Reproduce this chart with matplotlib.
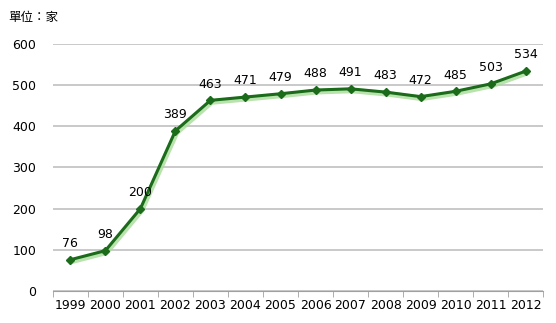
import matplotlib
matplotlib.use("Agg")
import matplotlib.pyplot as plt
import matplotlib.patheffects as pe
import numpy as np

years = ["1999", "2000", "2001", "2002", "2003", "2004", "2005",
         "2006", "2007", "2008", "2009", "2010", "2011", "2012"]
counts = [76, 98, 200, 389, 463, 471, 479, 488, 491, 483, 472, 485, 503, 534]

plt.rcParams["font.family"] = ["DejaVu Sans", "Noto Sans CJK TC"]

fig = plt.figure(figsize=(5.56, 3.23), dpi=100)
fig.patch.set_facecolor("white")
ax = fig.add_axes([0.095, 0.099, 0.882, 0.765])

x = np.arange(len(years))
# line with soft green shadow
ax.plot(x, counts, color="#1b6b1b", linewidth=2.2, zorder=3,
        path_effects=[pe.SimpleLineShadow(offset=(0.8, -1.2), shadow_color="#a8dc98",
                                          alpha=0.8, linewidth=4),
                      pe.Normal()])
ax.plot(x, counts, linestyle="none", marker="D", markersize=4,
        color="#1b6b1b", zorder=4)

for xi, v in zip(x, counts):
    ax.annotate(str(v), (xi, v), xytext=(0, 7), textcoords="offset points",
                ha="center", va="bottom", fontsize=9, color="black")

ax.set_xlim(-0.5, len(years) - 0.5)
ax.set_ylim(0, 600)
ax.set_yticks(range(0, 601, 100))
ax.set_xticks(x)
ax.set_xticklabels(years, fontsize=9)
ax.set_xticks(np.arange(-0.5, len(years), 1), minor=True)
ax.tick_params(axis="x", which="major", length=0, pad=6)
ax.tick_params(axis="x", which="minor", length=4, color="#a0a0a0", direction="out")
ax.tick_params(axis="y", length=0, labelsize=9, pad=12)
ax.grid(axis="y", color="#c0c0c0", linewidth=1.2)
ax.set_axisbelow(True)
for s in ["top", "right", "left"]:
    ax.spines[s].set_visible(False)
ax.spines["bottom"].set_color("#a0a0a0")

fig.text(0.014, 0.935, "單位：家", fontsize=9, family=["Noto Sans CJK TC"])

fig.savefig("out.png", dpi=100)
